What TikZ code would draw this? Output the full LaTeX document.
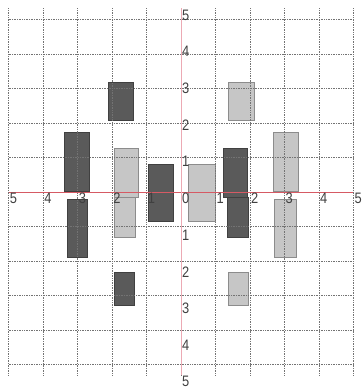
\documentclass[tikz,border=0pt]{standalone}
\usepackage{fontspec}
\setmainfont{Liberation Sans}
\newfontfamily\tickfont[FakeStretch=0.85]{Liberation Sans}
\usepackage{tikz}
\definecolor{bardark}{RGB}{90,90,90}
\definecolor{barlight}{RGB}{198,198,198}
\definecolor{axisred}{RGB}{214,90,100}
\definecolor{axispink}{RGB}{236,170,180}

\begin{document}
\begin{tikzpicture}[
  x=1cm, y=1.064cm,
  darkbar/.style={fill=bardark, draw=black!75, line width=0.4pt},
  lightbar/.style={fill=barlight, draw=black!45, line width=0.4pt},
  gridline/.style={draw=black!55, densely dotted, line width=0.4pt},
  ticklbl/.style={anchor=north west, inner sep=0.8pt, text=black!75, font=\tickfont\fontsize{12.5}{13}\selectfont}
]
\useasboundingbox (-5.25,-5.40) rectangle (5.22,5.23);
% bars
\foreach \xa/\ya/\xb/\yb in {-2.1/1.95/-1.4/3.0, -3.4/0.03/-2.67/1.63, -3.3/-1.77/-2.72/-0.2,
  -0.96/-0.79/-0.23/0.76, -1.94/-3.08/-1.36/-2.2, 1.22/-0.14/1.91/1.2, 1.33/-1.23/1.94/-0.14}
  \path[darkbar] (\xa,\ya) rectangle (\xb,\yb);
\foreach \xa/\ya/\xb/\yb in {1.36/1.95/2.12/3.0, 2.67/0.03/3.39/1.63, 2.7/-1.77/3.33/-0.2,
  0.2/-0.79/0.98/0.76, 1.36/-3.08/1.94/-2.2, -1.94/-0.14/-1.24/1.2, -1.94/-1.23/-1.33/-0.14}
  \path[lightbar] (\xa,\ya) rectangle (\xb,\yb);
% grid and axes
\draw[gridline] (-5,-5) grid (5,5);
\draw[axisred, line width=0.6pt] (-5,0) -- (5,0);
\draw[axispink, line width=0.8pt] (0,-5) -- (0,5);
% tick labels
\foreach \x in {-5,...,5} {
  \pgfmathtruncatemacro\t{abs(\x)}
  \node[ticklbl] (xl\t\x) at (\x,0) {\t};
}
\foreach \y in {-5,...,-1,1,2,...,5} {
  \pgfmathtruncatemacro\t{abs(\y)}
  \node[ticklbl] (yl\t\y) at (0,\y) {\t};
}
\end{tikzpicture}
\end{document}
